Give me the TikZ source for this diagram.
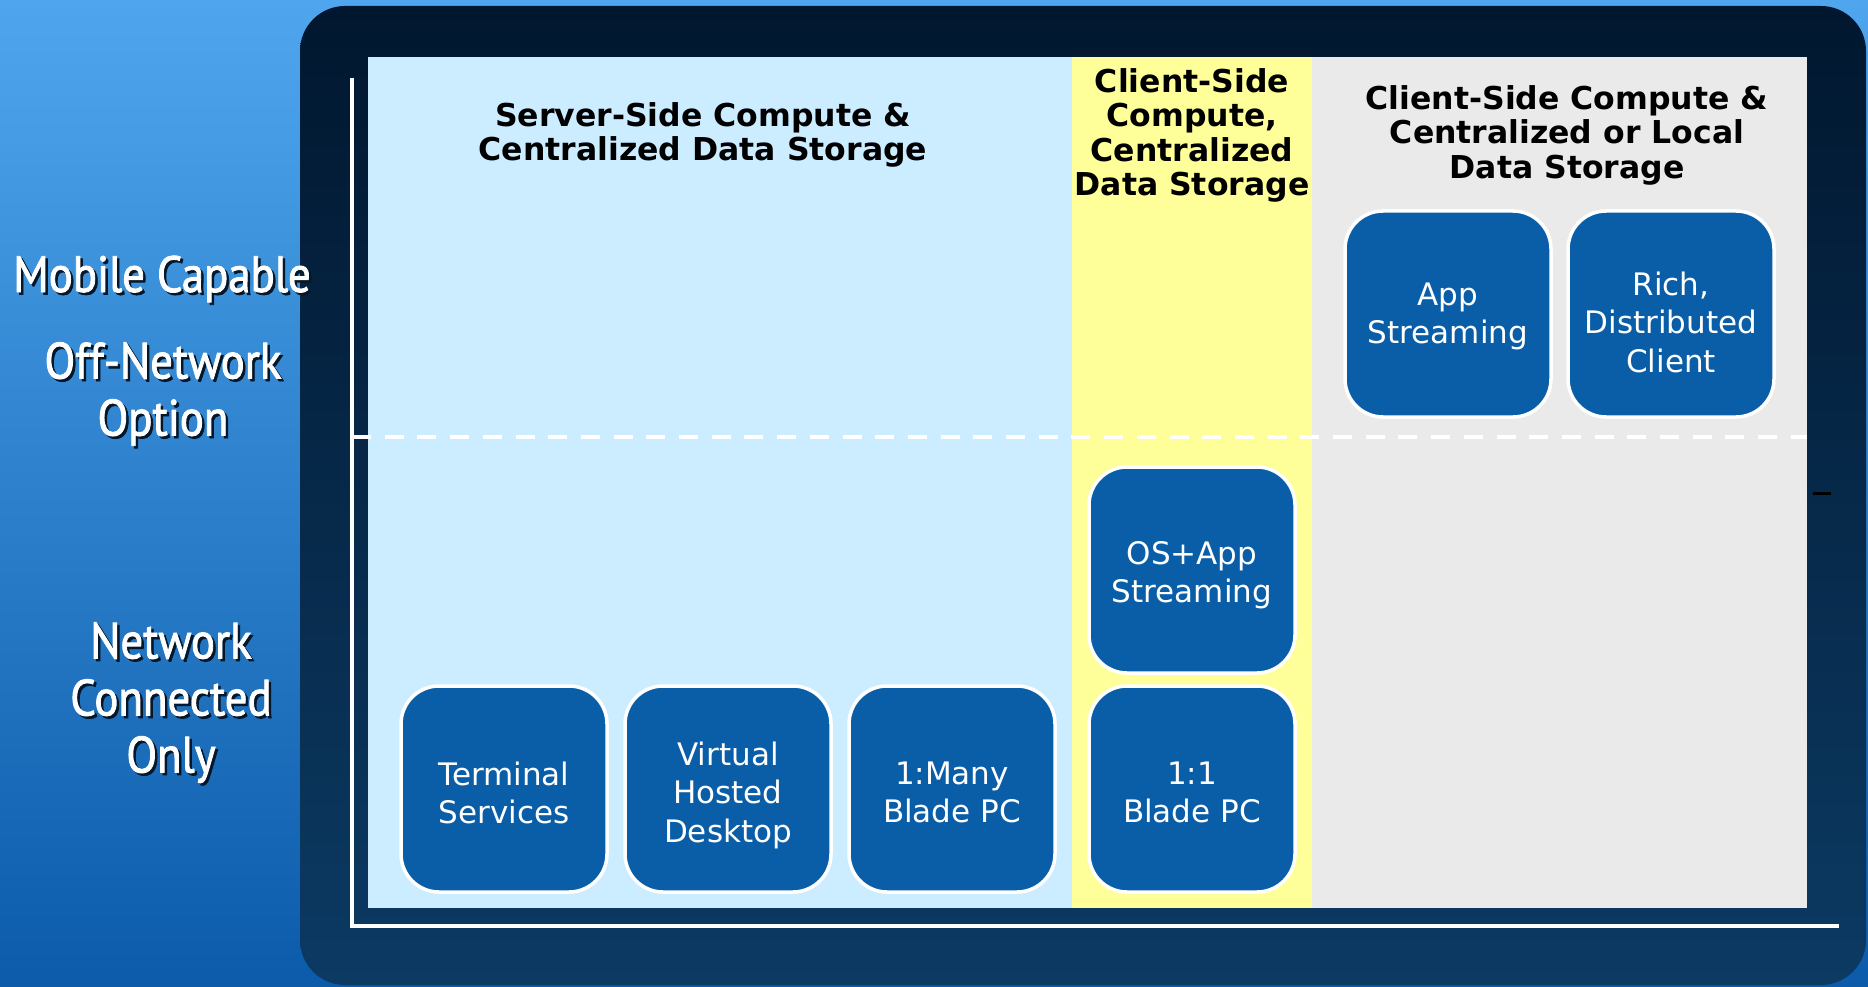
\documentclass[tikz,border=0pt]{standalone}
\usepackage{fontspec}
\setmainfont{DejaVu Sans}
\newfontfamily\lblfont[FakeStretch=0.88,FakeBold=1.6]{PT Sans}
\definecolor{bgA}{HTML}{4FA6EE}
\definecolor{bgM}{HTML}{1B6FC2}
\definecolor{bgB}{HTML}{0B5BAA}
\definecolor{frmA}{HTML}{01172F}
\definecolor{frmB}{HTML}{0C3A63}
\definecolor{panelblue}{HTML}{CCECFF}
\definecolor{panelyellow}{HTML}{FFFF99}
\definecolor{panelgray}{HTML}{EAEAEA}
\definecolor{tileblue}{HTML}{0A5EA8}
\definecolor{shadowcol}{HTML}{04172B}
\newcommand\fl[1]{\rule{0pt}{#1pt}}
\tikzset{
  tile/.style={rounded corners=38pt, fill=tileblue, draw=white, line width=3.5pt,
    minimum width=206pt, minimum height=206pt, text=white, align=center,
    inner sep=0pt, font=\fontsize{31}{38.5}\selectfont},
  header/.style={align=center, anchor=north, inner sep=0pt, text=black,
    font=\bfseries\fontsize{31.5}{34.5}\selectfont},
  sidelabel/.style={align=center, inner sep=0pt, text=white,
    font=\lblfont\fontsize{51}{57}\selectfont},
  sideshadow/.style={sidelabel, text=shadowcol},
  axisline/.style={white, line width=4pt},
}
\begin{document}
\begin{tikzpicture}[x=1pt,y=-1pt]
\useasboundingbox (0,0) rectangle (1868,987);
% background
\shade[top color=bgA, middle color=bgM, bottom color=bgB] (0,0) rectangle (1868,987);
% dark frame
\shade[top color=frmA, bottom color=frmB, rounded corners=45pt] (300,6) rectangle (1866,985);
% panels
\fill[panelblue] (368,57) rectangle (1072,908);
\fill[panelyellow] (1072,57) rectangle (1312,908);
\fill[panelgray] (1312,57) rectangle (1807,908);
% axes
\coordinate (axtop) at (352,78);
\coordinate (origin) at (352,926);
\coordinate (axright) at (1839,926);
\draw[axisline] (axtop) -- (origin) -- (axright);
\coordinate (dl) at (352,437);
\coordinate (dr) at (1807,437);
\draw[axisline, dash pattern=on 19pt off 13.7pt] (dl) -- (dr);
\coordinate (tickA) at (1813,493);
\coordinate (tickB) at (1831,493);
\draw[black, line width=3pt] (tickA) -- (tickB);
% headers
\node[header] (hserver) at (703,102) {Server-Side Compute \&\\Centralized Data Storage};
\node[header] (hyellow) at (1192,68) {Client-Side\\Compute,\\Centralized\\Data Storage};
\node[header] (hgray) at (1567,85) {Client-Side Compute \&\\Centralized or Local\\Data Storage};
% side labels
\node[sideshadow, anchor=base] (smobile) at (164.5,294.5) {Mobile Capable};
\node[sidelabel, anchor=base] (mobile) at (162,292) {Mobile Capable};
\node[sideshadow, anchor=north] (soff) at (165.5,344.5) {Off-Network\\Option};
\node[sidelabel, anchor=north] (off) at (163,342) {Off-Network\\Option};
\node[sideshadow, anchor=north] (snet) at (173.5,624.5) {Network\\Connected\\Only};
\node[sidelabel, anchor=north] (net) at (171,622) {Network\\Connected\\Only};
% tiles
\node[tile] (term) at (504,789) {\fl{31}Terminal\\Services};
\node[tile] (vhd) at (728,789) {\fl{36}Virtual\\Hosted\\Desktop};
\node[tile] (many) at (952,789) {\fl{29}1:Many\\Blade PC};
\node[tile] (one) at (1192,789) {\fl{29}1:1\\Blade PC};
\node[tile] (osapp) at (1192,570) {\fl{33}OS+App\\Streaming};
\node[tile] (app) at (1448,314) {\fl{27}App\\Streaming};
\node[tile] (rich) at (1671,314) {\fl{40}Rich,\\Distributed\\Client};
\end{tikzpicture}
\end{document}
